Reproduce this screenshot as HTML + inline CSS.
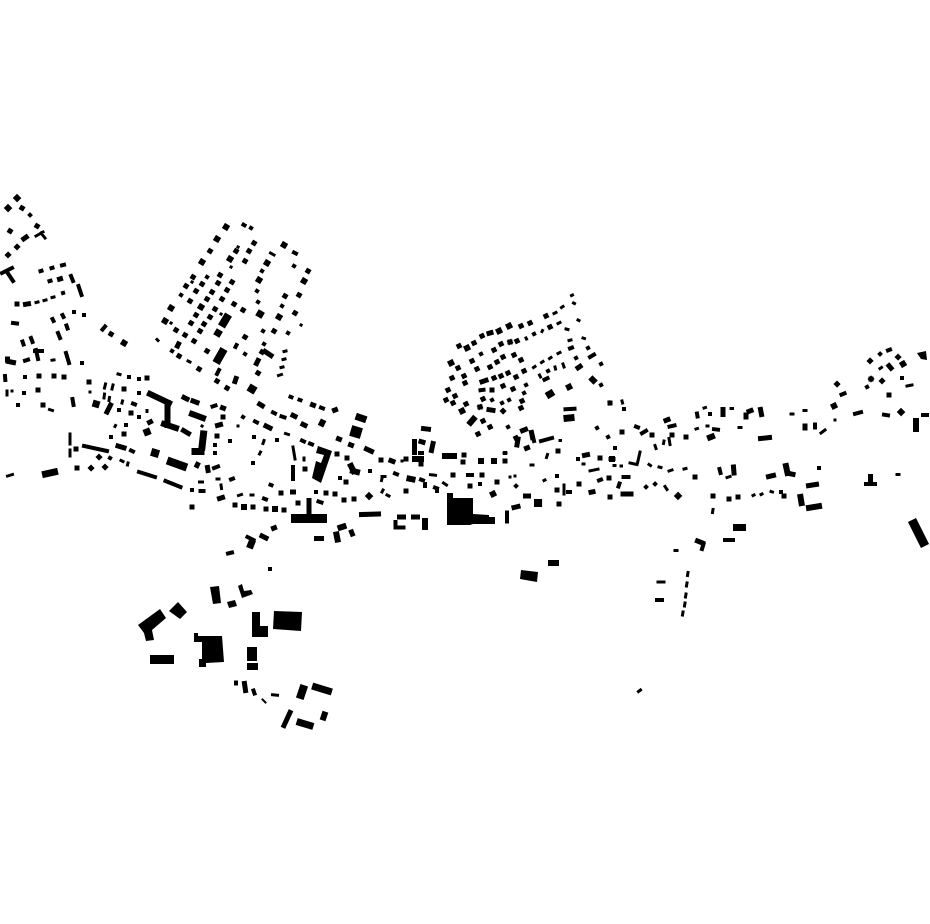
<!DOCTYPE html>
<html><head><meta charset="utf-8"><title>Figure-ground map</title>
<style>html,body{margin:0;padding:0;background:#fff;width:930px;height:924px;overflow:hidden}svg{display:block}path{fill:none;stroke:#000;stroke-linecap:square;stroke-linejoin:miter}polygon{fill:#000}</style></head>
<body>
<svg width="930" height="924" viewBox="0 0 930 924" xmlns="http://www.w3.org/2000/svg">
<!-- tilted + squares -->
<path stroke-width="5" d="M210 251l.1.06M193 277l.1.06M186 286l.1.06M176 330l.1.06M185 335l.1.06M194 341l.1.06M179 356l.1.06M199 369l.1.06M217 381l.1.06M227 388l.1.06M207 351l.1.06M200 331l.1.06M191 323l.1.06M204 324l.1.06M196 315l.1.06M210 317l.1.06M215 309l.1.06M190 301l.1.06M207 299l.1.06M222 299l.1.06M234 304l.1.06M196 291l.1.06M212 292l.1.06M227 290l.1.06M202 284l.1.06M218 283l.1.06M232 282l.1.06M220 275l.1.06M236 251l.1.06M249 251l.1.06M254 243l.1.06M245 261l.1.06M243 310l.1.06M245 337l.1.06M274 331l.1.06M258 373l.1.06M295 313l.1.06M299 295l.1.06M308 271l.1.06M22 208l.1.06M37 226l.1.06M10 231l.1.06M111 334l.1.06M99 457l.1.1M91 468l.1.1M105 467l.1.1M503 411l.1.1M285 296l.1.06M262 352l.1.06M898 357l.1.1M837 384l.1.1"/>
<path stroke-width="6" d="M226 227l.1.06M217 239l.1.06M202 262l.1.06M171 308l.1.06M165 321l.1.06M201 307l.1.06M284 245l.1.06M267 263l.1.06M259 280l.1.06M279 317l.1.06M304 281l.1.06M230 259l.1.06M17 198l.1.1M8 208l.1.1M901 412l.1.1M369 496l.1.1M124 343l.1.06M903 364l.1-.06"/>
<path stroke-width="7" d="M218 333l.1.06M260 314l.1.06M147 432l.1-.04M96 404l.1.03"/>
<path stroke-width="8" d="M252 389l.1.06M155 453l.1.03M538 503l.1.0"/>
<path stroke-width="11" d="M356 432l.1.03"/>
<path stroke-width="4" d="M251 228l.1.06M181 295l.1.06M172 351l.1.06M207 277l.1.06M262 271l.1.06M257 291l.1.06M258 302l.1.06M245 354l.1.06M263 331l.1.06M288 333l.1.06M264 344l.1.06M282 306l.1.06M294 266l.1.06M243 417l.1.06M30 215l.1.1M110 458l.1.06M63 293l.1-.03"/>
<path stroke-width="3" d="M171 323l.1.06M221 314l.1.06M192 282l.1.06M231 267l.1.06M238 247l.1.06M301 325l.1.06M202 426l.1.06"/>
<!-- tilted - squares -->
<path stroke-width="5" d="M17 247l.1-.1M8 255l.1-.1M546 316l.1-.05M530 323l.1-.05M521 326l.1-.05M482 336l.1-.05M474 343l.1-.05M459 346l.1-.05M458 368l.1-.05M452 378l.1-.05M448 390l.1-.05M455 396l.1-.05M446 400l.1-.05M453 403l.1-.05M466 404l.1-.05M472 361l.1-.05M494 350l.1-.05M501 344l.1-.05M510 342l.1-.05M517 341l.1-.05M550 327l.1-.05M524 371l.1-.05M521 360l.1-.05M514 355l.1-.05M503 357l.1-.05M497 362l.1-.05M490 367l.1-.05M477 369l.1-.05M508 373l.1-.05M501 376l.1-.05M494 378l.1-.05M516 377l.1-.05M513 389l.1-.05M503 386l.1-.05M483 399l.1-.05M522 401l.1-.05M480 407l.1-.05M521 408l.1-.05M483 421l.1-.05M490 427l.1-.05M478 434l.1-.05M516 438l.1-.05M870 361l.1-.1M871 379l.1-.1M882 381l.1-.1M464 376l.1-.05M465 383l.1-.05"/>
<path stroke-width="6" d="M509 326l.1-.05M499 331l.1-.05M467 348l.1-.05M451 363l.1-.05M462 411l.1-.05M569 387l.1-.05M493 494l.1-.05M678 496l.1-.1M834 406l.1-.05"/>
<path stroke-width="4" d="M534 334l.1-.05M548 371l.1-.05M576 358l.1-.05M526 385l.1-.05M509 400l.1-.05M502 403l.1-.05M508 427l.1-.05M880 354l.1-.1M867 387l.1-.05M646 487l.1-.1M655 484l.1-.1M516 486l.1-.1M608 437l.1-.05M481 354l.1-.05M492 400l.1-.05M524 393l.1-.05M601 385l.1-.05M601 364l.1-.05M597 428l.1-.05M588 348l.1-.05"/>
<!-- axis squares -->
<path stroke-width="5" d="M17 304h0M39 376h0M54 376h0M64 377h0M38 390h0M43 405h0M76 449h0M77 468h0M89 382h0M124 389h0M147 378h0M131 413h0M124 434h0M223 417h0M217 436h0M281 493h0M298 503h0M235 505h0M253 507h0M266 509h0M284 510h0M326 493h0M354 499h0M335 494h0M381 460h0M406 491h0M453 475h0M482 475h0M470 486h0M463 462h0M464 455h0M421 459h0M421 464h0M406 459h0M480 407h0M610 403h0M622 432h0M652 435h0M686 437h0M609 478h0M557 490h0M559 504h0M505 461h0M558 451h0M600 458h0M579 484h0M889 395h0M871 379h0M738 497h0M729 499h0M713 496h0M492 390h0M695 477h0M305 469h0M337 454h0M347 458h0M344 500h0M346 482h0M497 482h0M510 342h0M672 435h0M784 496h0M610 497h0M192 507h0"/>
<path stroke-width="4" d="M84 315h0M74 312h0M82 363h0M25 377h0M139 393h0M139 417h0M111 437h0M126 425h0M119 410h0M139 379h0M129 377h0M277 440h0M254 437h0M253 463h0M230 441h0M215 445h0M215 453h0M370 471h0M316 492h0M437 491h0M480 484h0M557 476h0M624 409h0M819 468h0M710 414h0M578 459h0M18 405h0M24 393h0M192 490h0M270 569h0M340 478h0M505 453h0M902 378h0M781 492h0M615 448h0"/>
<path stroke-width="3" d="M12 391h0M90 392h0M238 426h0M402 461h0M510 477h0M515 476h0M835 420h0"/>
<path stroke-width="6" d="M244 507h0M481 461h0M494 461h0M275 509h0M415 459h0M421 459h0M612 459h0"/>
<!-- elongated width 3 -->
<path stroke-width="3" d="M270.5 253l3.5 2M284 351.5l2-.5M283 359.5l2-.5M281 367.5l2-.5M278.5 375.5l3-1M188 361l2 1M121 460.5l2 1M49.5 409.5l3 1M118 374l2 .5M7 391v4M70 434v10M70 450v6M7.500 476l5-1.500M105.500 384l-1 4M113 385l-1 4M104.500 394l-.5 4M109.500 397.500l-.5 3M122.500 401l-.5 2M115.500 425.500l-.5 1M147 410.500v1M293 447l2 12M304 458v2M260.500 452l-1 2M264 440.500l-1 3M221 485l.5 3.500M285.500 433.500l3 1M199.500 482h3M217 479h2M238.500 495.500l3-1M251 495h2M128 463l-.5 2M44 300.500l2-.5M52 297.500l2-.5M36 302.500l2-.5M157 339.500l1 1M52 360.200l2-.3M36 236l7-4M41 233l4 5M563 364l1 3M555 367l.5 2M539.500 375l1 2M558 353.500l2-1M549.500 358.500l1.500-1M541.500 362.500l1.500-1M533.500 367.500l1.500-1M526 338l.5 1M542.500 330.500l-.5 1M566 329l2 .5M569 340.500l2-.5M558 323.500l2-1M554 313.500l2-1M561.500 307.500l1.500-1M571.500 295.500l1-.5M573.500 303l1 .5M578 320l1 .5M583 338l1.500.5M609 402l.5 2M622 401l.5 2M655 445.500l1 3M664 441l-.5 2.500M669 438.500l1 6M649 464.500l1.500 1M659 467l2 .5M669 471l3-1M684 469l2-.5M696 429l1.500-.5M531 465h2M504 453h2M544 480.500l1-.5M547.500 454.500l-1 3M560 440.500h.5M614 465.500h1M621 466h.5M583 464h1M590 470.800l8-1.600M791 414h2M804 410.500h2M707 426h1M704 408l1.500-.5M731 408.500h1.500M739 427.500h2M897 474.500h2M880 368.500l1.500-1M907 386l5-1M753 495.500l1-.5M761 494.500l1-.5M771 491.500l1.500.5M727 477.500l3-1M658 582h6M688 572.500l-.5 3M687 583l-.5 3M686 594l-.5 3M685 603l-.5 3M683 612l-.5 3M675 550.500h2M713 509.500l-.5 3M640.500 690l-2 1.500M640 452l-2.500 11M630 463l7 1.500M564 485v9M821 433l4-3M665 486.500l2 3M443.500 483l3 2M430.500 474.700l5 .6M382 476.500h3M382 478.500l-.5 2M382 492l1 -2M387 495l2 1M272.500 694.800l5 .4"/>
<path stroke-width="2" d="M262.500 699.500l3 3M221 485l.5 3"/>
<!-- elongated width 4 -->
<path stroke-width="4" d="M40.500 271.100l1-.3M51.500 268.100l1-.3M62 265.300l2-.5M49.500 281.100l1-.3M71 276l2 5M78.500 286l3 9M13 323l4 .5M22.500 341.500l1 3M31 338l1.500 4M52.500 319l1 2M62.500 315l1 2M66.500 325.500l1 3M58 333l2 5M102.500 329.500l2.500-3M2 273l10-5M7 272l6 9M25 360.700l3-1M36 350l2 9M35 351h7M66 353l3 10M5 376l.3 4M72.500 399l1 6M84 446l23 5M131 450.500l2 1M139 472l16 5M133 403.600l2 .8M165.500 481l15 6M243.500 224.700l1 .6M294 252.500l2 1M236.500 345l-1 2M219 370l-2 4M290.500 396.800l1 .4M299.500 399.800l1 .4M321 407.600l2 .8M273 412.400l2 1M281.500 416.400l3 1M255 421.400l2 1M302 440.500l2 1M310 443.600l2 .8M212.500 406.500l3-1M214 468l4-1.500M200.500 491h3M231 479.400l2-.8M264 498.600l2 .8M270.500 484.800l1 .4M318.500 501.500l3 1M247.500 537l6 3M228 553.500l4-1M293 467v12M395 473.500l2 .8M421 479.600l2 .8M425 484v2M435 487.600l2 .8M468 475h4M420 453h2M395.500 522v5.500h8M480.500 390.200l3-.4M544.500 379.700l3-1.500M590 357l4-2.400M570 348.400l2-.8M565.500 409.300l9-.6M532 433l2 8M541 441l11-3M636 426.600l2 .8M642 433.200l4-2.400M669.500 426.600l5-1.200M610.500 459h3M623.500 477h5M599 480.400l2-.8M619.500 483.500l-1 3M568 492h2M507 512.500v9M888 350.400l2-.8M841.500 394.600l3-1.200M855 413.800l6-1.600M884 414.700l4 .6M923 415h4M815 424.500v3M719.500 469l1 4M714 429.200l4 .5M725 540h8M703.500 544l-1.500 5M866 484h9M236 682.500v1M253.500 690.500l1 3M657 600h5M697 413.500l.5 3"/>
<!-- elongated width 5 -->
<path stroke-width="5" d="M23.800 238.800l2.400-1.700M59.500 279.100l1-.3M25.500 304.300l3-.5M8.500 361.500l5 1M7.500 359v1M118 446l6 1.800M107 412l3.500-7M149.500 422.300l1-.5M178.500 344l-1 2M236 378.500l-1 3M258 360.500l-1.500 3M265 351.500l6 4M312.500 404.800l1 .4M259.700 404.200l2.600 1.600M293 415.400l2 1M303 424.400l2 1M266 426l4 2M222.500 407.800l1 .4M217.500 425.400l3-.8M184 397.500l3 1.500M193 401l4 1.500M183.500 430.500l5 3M197.500 464.500l-.5 1M207.500 467.500l.5 3M219.500 498.500l3-1M292.500 492h1M309 500.500v14M273.500 528.200l1-.4M316.500 538.500h5M262 536l4 2M334.500 410.200l1-.4M338.500 438.800l1 .4M350.500 444.800l1 .4M366.500 449l5 2.300M391 460.600l2 .8M414.500 441.500v11M421 441.600l2 .6M433 443.500l-1.500 7M423.500 428.600l5 .6M361.500 514.500l17-.5M399.500 517h4M413.500 517h4M351.500 532l.8 2M489 333.300l2-.6M482 381.700l4-1.400M489 409.700l4 .6M578 367.800l2-1.400M522.500 430.600l3-1.200M531.500 432.500l1 5M518 439l-1 6M526.500 448.200l1-.4M666 420.400l2-.8M584.500 455.300l3-.6M591 492.200l2-.4M623 494h8M525.500 496h3M514 507.500l4-1M889 365.800l2 2.300M805 426v2M723 409.500v5M749 411.400l2-.8M746 415v2M760.500 409.500l1 5M733.500 467l.5 6M768.500 476.600l5-1.200M789 473.500l4 .8M808.500 485.600l8-1.200M697.500 541l5 2M870.500 476.500v5M244.500 683.500l1 7M290 712.500l-6 13M760.500 438.500l9-1"/>
<!-- elongated width 6+ -->
<path stroke-width="6" d="M150 394l19 9M167.500 403v22M164 424l12 4M192 414l11 4M322.300 422.500l-.5 1M351 466l2.500 5M353 471l4 1M409.500 478.700l3 .6M425 521v6M340.500 527.500l3-1M336.500 534.500l1 5M473.500 419l-3 3.500M445 456h9M592.500 379.500l1 1M916 421v8M710 437.400l2-.8M786 466l1.500 7M800.500 497l1 6M809 507.800l10-1.600M324.500 714.500l-1 3"/>
<path stroke-width="7" d="M203.500 434l-1.500 13M195 451.500h6M45.500 474l9-2M549.500 394.300l1-.6M567 418.200l4-.4M251.500 543l-.8 2M315.500 687l13 4M300 722.500l10 3M359 417.300l4 1.400"/>
<path stroke-width="8" d="M218 359.500l4-7M223.500 323l3-5M170.900 461.800l12.200 4.400M303 689l-2 6"/>
<path stroke-width="9" d="M295.500 518.500h27M914 524l9 18"/>
<!-- large polygons -->
<polygon points="318,446 332,451 321,483 312,478 316,461 321,463 324,455 316,453"/>
<polygon points="447,493 453,493 453,498 473,498 473,514 489,515 489,517 495,517 495,524 473,524 470,525 447,525"/>
<polygon points="138,625 160,609 166,618 152,630 154,640 146,641 144,633"/>
<polygon points="169,611 178,602 187,612 180,619"/>
<polygon points="150,655 174,655 174,664 150,664"/>
<polygon points="194,633 198,633 198,636 222,636 224,662 206,663 206,667 199,667 199,659 202,659 202,642 194,642"/>
<polygon points="210,587 219,586 221,603 213,604"/>
<polygon points="227,602 235,600 237,606 229,608"/>
<polygon points="238,586 242,584 244,591 251,590 253,594 242,598"/>
<polygon points="252,612 260,612 260,626 268,626 268,637 252,637"/>
<polygon points="274,611 302,612 301,631 273,629"/>
<polygon points="247,647 257,647 257,661 247,661"/>
<polygon points="247,663 258,663 258,670 247,670"/>
<polygon points="917,353 926,351 927,360 921,359"/>
<polygon points="521,570 538,572 537,582 520,579"/>
<polygon points="733,524 746,524 746,531 733,531"/>
<polygon points="548,560 559,560 559,566 548,566"/>
</svg>
</body></html>
